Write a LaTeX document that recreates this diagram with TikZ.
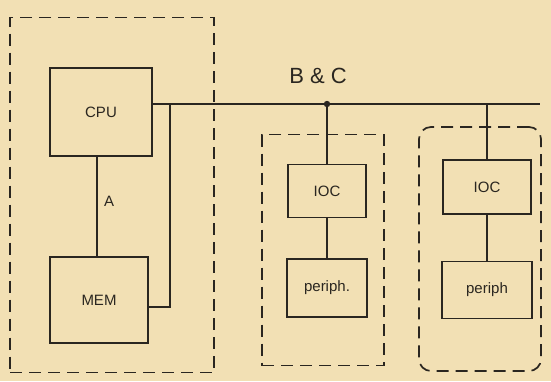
\documentclass[tikz,border=0pt]{standalone}
\usepackage{fontspec}
\setmainfont{Liberation Sans}
\usetikzlibrary{calc}
\definecolor{paper}{HTML}{F2E0B4}
\definecolor{ink}{HTML}{2A2620}
\begin{document}
\begin{tikzpicture}[x=1pt,y=-1pt,
  box/.style={draw=ink,line width=1.8pt,inner sep=0pt,text=ink,font=\fontsize{15}{17}\selectfont},
  frame/.style={draw=ink,line width=1.7pt,dash pattern=on 12pt off 7pt,inner sep=0pt},
  wire/.style={draw=ink,line width=1.8pt}]
\fill[paper] (0,0) rectangle (551,381);
\useasboundingbox (0,0) rectangle (551,381);
% group frames
\node[frame,minimum width=204pt,minimum height=355pt] (g1) at (112,195) {};
\node[frame,minimum width=122pt,minimum height=231pt] (g2) at (323,250) {};
\node[frame,rounded corners=12pt,minimum width=122pt,minimum height=244pt] (g3) at (480,249) {};
% blocks
\node[box,minimum width=102pt,minimum height=88pt] (cpu) at (101,112) {CPU};
\node[box,minimum width=98pt,minimum height=86pt] (mem) at (99,300) {MEM};
\node[box,minimum width=78pt,minimum height=53pt] (ioc1) at (327,191) {IOC};
\node[box,minimum width=80pt,minimum height=58pt] (per1) at (327,288) {periph.};
\node[box,minimum width=88pt,minimum height=54pt] (ioc2) at (487,187) {IOC};
\node[box,minimum width=90pt,minimum height=57pt] (per2) at (487,290) {periph};
% bus
\coordinate (busend) at (540,104);
\coordinate (tap) at (170,104);
\coordinate (j1) at (327,104);
\coordinate (j2) at (487,104);
\draw[wire] (cpu.east |- busend) -- (busend);
\fill[ink] (j1) circle (3.2);
\draw[wire] (tap) |- ($(mem.east)+(0,7)$);
\draw[wire] ([xshift=-4pt]cpu.south) -- node[right=3pt,text=ink,pos=0.45,font=\fontsize{15}{17}\selectfont] (la) {A} ([xshift=-4pt]cpu.south |- mem.north);
\draw[wire] (j1) -- (ioc1.north);
\draw[wire] (ioc1.south) -- (per1.north);
\draw[wire] (j2) -- (ioc2.north);
\draw[wire] (ioc2.south) -- (per2.north);
\node[text=ink,font=\fontsize{22}{24}\selectfont] (bc) at (318,76) {B \& C};
\end{tikzpicture}
\end{document}
